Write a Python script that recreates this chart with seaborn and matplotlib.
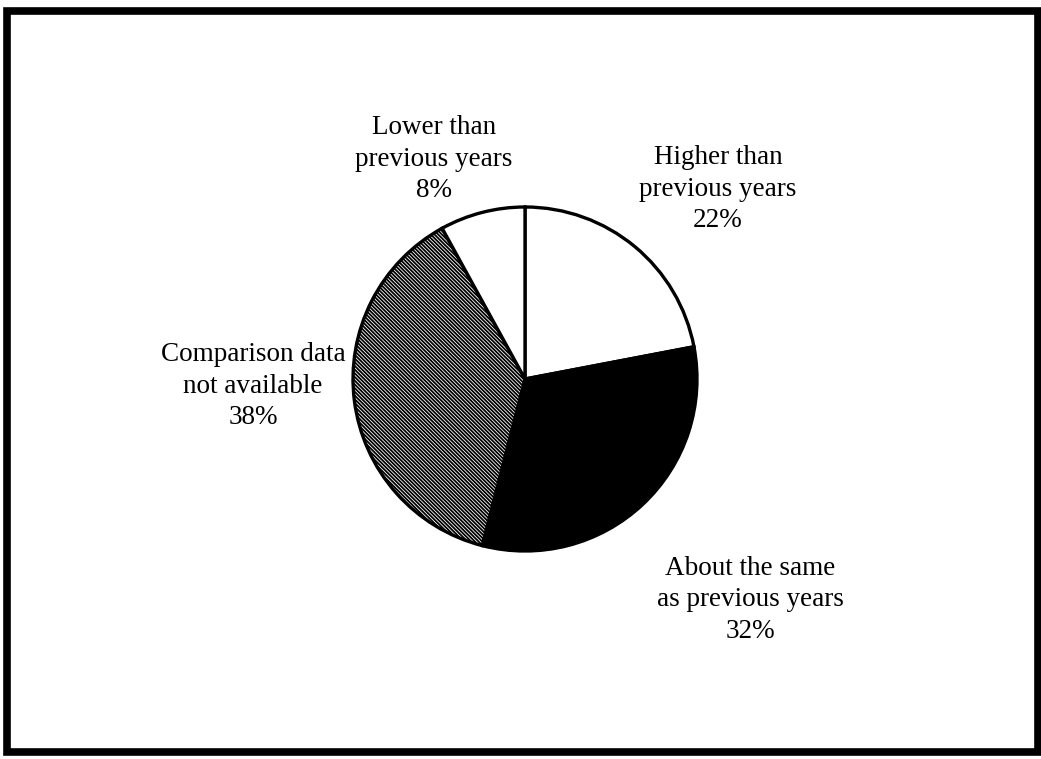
import matplotlib
matplotlib.use("Agg")
import matplotlib.pyplot as plt
from matplotlib.patches import Rectangle
import seaborn as sns

# Survey responses: how this year compares with previous years
categories = [
    "Higher than\nprevious years",
    "About the same\nas previous years",
    "Comparison data\nnot available",
    "Lower than\nprevious years",
]
shares = [22, 32, 38, 8]

sns.set_theme(style="white")
plt.rcParams["font.family"] = ["Liberation Serif", "DejaVu Serif"]
plt.rcParams["hatch.linewidth"] = 1.3

W, H, DPI = 1041, 759, 100
fig = plt.figure(figsize=(W / DPI, H / DPI), dpi=DPI)
ax = fig.add_axes([0, 0, 1, 1])

# data units: one pie radius = 172 px, pie centred at (525, 379) px
R = 172.0
cx, cy = 525.0, 379.0

face = ["white", "black", "white", "white"]
hatches = [None, None, "\\" * 9, None]
wedges, _ = ax.pie(
    shares,
    startangle=90,
    counterclock=False,
    colors=face,
    radius=1.0,
    center=(0, 0),
    wedgeprops=dict(edgecolor="black", linewidth=2.4),
    frame=False,
)
for w, h in zip(wedges, hatches):
    if h:
        w.set_hatch(h)
ax.set_xlim(-cx / R, (W - cx) / R)
ax.set_ylim(-(H - cy) / R, cy / R)
ax.set_aspect("equal")
ax.axis("off")

# label anchor points (centre of each three-line label)
label_xy = [
    ((718 - cx) / R, (cy - 189) / R),
    ((750 - cx) / R, (cy - 600) / R),
    ((253 - cx) / R, (cy - 386) / R),
    ((434 - cx) / R, (cy - 159) / R),
]
for name, val, (lx, ly) in zip(categories, shares, label_xy):
    ax.text(lx, ly, f"{name}\n{val}%", ha="center", va="center",
            fontsize=19.5, color="black", linespacing=1.32)

# heavy outer frame
fig.patches.append(Rectangle((7 / W, 1 - 752 / H), (1038 - 7) / W, (752 - 11) / H,
                             transform=fig.transFigure, fill=False,
                             edgecolor="black", linewidth=5.5))

fig.savefig("out.png", dpi=DPI, facecolor="white")
